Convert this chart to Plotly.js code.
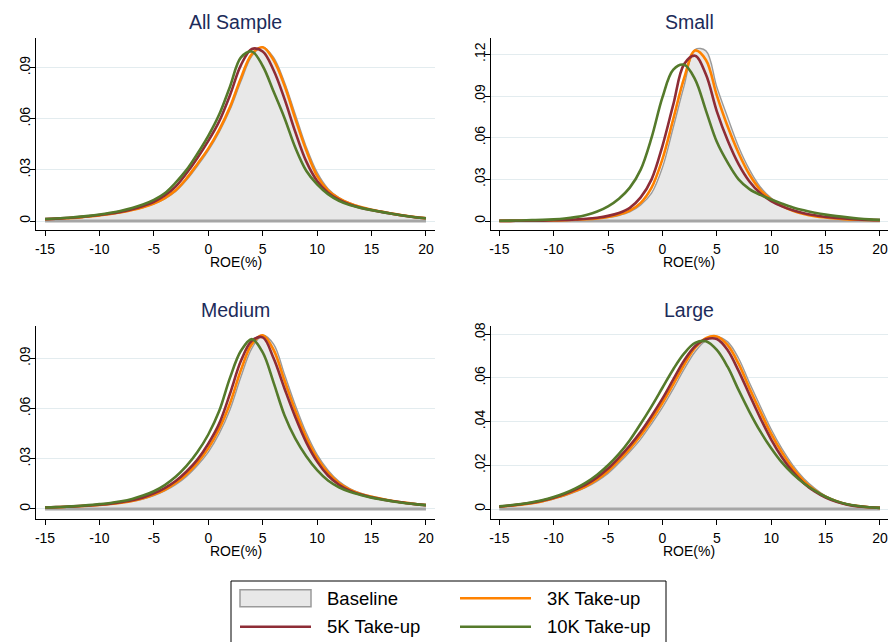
<!DOCTYPE html>
<html><head><meta charset="utf-8">
<script src="https://cdn.plot.ly/plotly-3.0.1.min.js"></script>
<style>html,body{margin:0;padding:0;background:#fff}#chart{width:889px;height:642px}</style>
</head><body><div id="chart"></div>
<script>
// ROE grid (x values, %)
const roe = [-15,-14,-13,-12,-11,-10,-9,-8,-7,-6,-5,-4,-3,-2,-1,0,1,2,3,4,5,6,7,8,9,10,11,12,13,14,15,16,17,18,19,20];

const seriesNames = ['Baseline','3K Take-up','5K Take-up','10K Take-up'];
const panelTitles = ['All Sample','Small','Medium','Large'];

// All Sample
const allBaseline = [.0010,.0013,.0016,.0020,.0025,.0032,.0040,.0050,.0062,.0079,.0100,.0130,.0173,.0240,.0323,.0413,.0522,.0654,.0820,.0968,.1022,.0960,.0815,.0625,.0435,.0285,.0190,.0138,.0106,.0084,.0067,.0055,.0043,.0033,.0024,.0016];
const all3K       = [.0010,.0013,.0016,.0020,.0026,.0033,.0041,.0051,.0064,.0081,.0103,.0135,.0180,.0250,.0335,.0425,.0535,.0670,.0840,.0980,.1020,.0945,.0795,.0600,.0415,.0265,.0180,.0133,.0103,.0082,.0066,.0054,.0042,.0032,.0023,.0016];
const all5K       = [.0011,.0014,.0018,.0022,.0028,.0035,.0044,.0055,.0069,.0088,.0113,.0150,.0202,.0280,.0370,.0470,.0585,.0740,.0915,.1010,.0995,.0885,.0717,.0522,.0350,.0235,.0166,.0125,.0097,.0078,.0064,.0052,.0041,.0031,.0022,.0016];
const all10K      = [.0012,.0015,.0019,.0024,.0030,.0038,.0048,.0060,.0076,.0097,.0124,.0163,.0225,.0300,.0395,.0500,.0625,.0790,.0960,.0995,.0910,.0760,.0605,.0430,.0295,.0215,.0158,.0119,.0094,.0077,.0064,.0052,.0041,.0031,.0022,.0016];

// Small
const smallBaseline = [.0001,.0001,.0002,.0002,.0003,.0004,.0006,.0008,.0012,.0017,.0026,.0040,.0065,.0115,.0200,.0385,.0675,.0975,.1235,.1225,.0965,.0745,.0535,.0370,.0245,.0165,.0112,.0077,.0053,.0037,.0026,.0019,.0013,.0010,.0007,.0005];
const small3K       = [.0001,.0001,.0002,.0002,.0003,.0004,.0006,.0009,.0013,.0019,.0029,.0046,.0075,.0130,.0240,.0445,.0735,.1030,.1228,.1160,.0905,.0680,.0490,.0335,.0225,.0155,.0107,.0074,.0051,.0035,.0025,.0018,.0012,.0009,.0007,.0005];
const small5K       = [.0001,.0001,.0002,.0002,.0003,.0005,.0007,.0011,.0016,.0024,.0037,.0058,.0095,.0170,.0300,.0540,.0840,.1130,.1190,.1055,.0790,.0580,.0410,.0285,.0200,.0143,.0105,.0077,.0056,.0041,.0029,.0022,.0016,.0011,.0008,.0006];
const small10K      = [.0002,.0003,.0004,.0006,.0008,.0012,.0018,.0028,.0044,.0068,.0105,.0160,.0240,.0370,.0600,.0890,.1090,.1125,.1020,.0795,.0570,.0420,.0300,.0230,.0188,.0155,.0125,.0098,.0077,.0060,.0046,.0035,.0026,.0018,.0012,.0008];

// Medium
const medBaseline = [.0008,.0010,.0012,.0015,.0019,.0023,.0029,.0036,.0046,.0060,.0080,.0108,.0145,.0195,.0260,.0340,.0450,.0595,.0790,.0960,.1038,.0985,.0805,.0620,.0455,.0325,.0232,.0165,.0122,.0094,.0076,.0062,.0050,.0040,.0031,.0024];
const med3K       = [.0008,.0010,.0013,.0016,.0020,.0024,.0030,.0038,.0048,.0064,.0086,.0115,.0155,.0208,.0276,.0362,.0478,.0632,.0830,.0985,.1038,.0950,.0768,.0587,.0428,.0305,.0217,.0155,.0116,.0090,.0073,.0060,.0048,.0038,.0030,.0023];
const med5K       = [.0009,.0011,.0013,.0017,.0021,.0026,.0032,.0041,.0052,.0069,.0093,.0125,.0167,.0224,.0295,.0390,.0510,.0690,.0885,.1005,.1025,.0900,.0720,.0548,.0398,.0283,.0200,.0145,.0110,.0086,.0070,.0057,.0046,.0037,.0029,.0023];
const med10K      = [.0009,.0011,.0014,.0018,.0023,.0029,.0036,.0046,.0060,.0080,.0106,.0143,.0192,.0257,.0340,.0445,.0585,.0785,.0945,.1015,.0935,.0755,.0560,.0420,.0315,.0232,.0170,.0130,.0103,.0084,.0068,.0056,.0045,.0036,.0029,.0023];

// Large
const largeBaseline = [.0010,.0014,.0019,.0025,.0034,.0046,.0060,.0078,.0100,.0128,.0163,.0210,.0262,.0320,.0390,.0465,.0550,.0640,.0720,.0772,.0789,.0765,.0690,.0578,.0470,.0365,.0275,.0200,.0140,.0095,.0060,.0038,.0023,.0014,.0008,.0005];
const large3K       = [.0010,.0015,.0020,.0027,.0036,.0049,.0064,.0083,.0105,.0135,.0173,.0222,.0275,.0336,.0407,.0485,.0571,.0660,.0737,.0782,.0790,.0750,.0665,.0553,.0446,.0344,.0258,.0186,.0129,.0087,.0056,.0035,.0021,.0013,.0008,.0005];
const large5K       = [.0011,.0016,.0022,.0029,.0039,.0052,.0068,.0089,.0113,.0145,.0185,.0235,.0290,.0353,.0426,.0505,.0593,.0680,.0745,.0777,.0778,.0727,.0632,.0523,.0416,.0318,.0236,.0170,.0118,.0080,.0052,.0033,.0020,.0012,.0008,.0005];
const large10K      = [.0012,.0017,.0023,.0031,.0041,.0055,.0072,.0094,.0122,.0157,.0200,.0252,.0315,.0390,.0470,.0555,.0640,.0712,.0760,.0768,.0728,.0650,.0545,.0445,.0355,.0278,.0212,.0160,.0118,.0084,.0056,.0036,.0022,.0014,.0008,.0005];

const xTicks = [-15,-10,-5,0,5,10,15,20];
const yTicks1 = [0,.03,.06,.09];            const yText1 = ['0','.03','.06','.09'];
const yTicks2 = [0,.03,.06,.09,.12];        const yText2 = ['0','.03','.06','.09','.12'];
const yTicks4 = [0,.02,.04,.06,.08];        const yText4 = ['0','.02','.04','.06','.08'];

const panels = [
  {series:[allBaseline,all3K,all5K,all10K], yt:yTicks1, ytt:yText1},
  {series:[smallBaseline,small3K,small5K,small10K], yt:yTicks2, ytt:yText2},
  {series:[medBaseline,med3K,med5K,med10K], yt:yTicks1, ytt:yText1},
  {series:[largeBaseline,large3K,large5K,large10K], yt:yTicks4, ytt:yText4}
];

const lineColors = ['#9a9a9a','#ff8200','#8e2c36','#557a2b'];

const W = 889, H = 642;
const xDomPx = [[36,435],[490.7,888],[36,435],[490.7,888]];
const yDomPx = [[37.7,230],[37.7,230],[325.7,518.7],[325.7,518.7]];
const xRanges = [[-15.83,20.83],[-15.79,20.74],[-15.83,20.83],[-15.79,20.74]];
const yRanges = [[-0.00528,0.1076],[-0.00648,0.132],[-0.0058,0.1095],[-0.00444,0.0839]];
const xTitleY = [262,262,551,551];

const font = 'Liberation Sans, Arial, sans-serif';
const traces = [];
const layout = {
  width: W, height: H,
  margin: {l:0,r:0,t:0,b:0},
  paper_bgcolor: '#ffffff', plot_bgcolor: '#ffffff',
  font: {family: font, color: '#000', size: 14},
  showlegend: false,
  annotations: [], shapes: []
};

panels.forEach((p, i) => {
  const n = i+1;
  const xa = n===1 ? 'x' : 'x'+n, ya = n===1 ? 'y' : 'y'+n;
  const xk = n===1 ? 'xaxis' : 'xaxis'+n, yk = n===1 ? 'yaxis' : 'yaxis'+n;
  traces.push({x: roe, y: p.series[0], xaxis: xa, yaxis: ya, type:'scatter', mode:'lines',
    name: seriesNames[0], fill:'tozeroy', fillcolor:'#e8e8e8',
    line:{color:lineColors[0], width:1.4, shape:'spline'}, hoverinfo:'skip'});
  traces.push({x: [roe[0], roe[roe.length-1]], y: [0,0], xaxis: xa, yaxis: ya, type:'scatter', mode:'lines',
    line:{color:'#a6a6a6', width:3}, hoverinfo:'skip', name:'Baseline edge'});
  for (let s = 1; s < 4; s++) {
    traces.push({x: roe, y: p.series[s], xaxis: xa, yaxis: ya, type:'scatter', mode:'lines',
      name: seriesNames[s], line:{color:lineColors[s], width:2.6, shape:'spline'}});
  }
  layout[xk] = {
    domain: [xDomPx[i][0]/W, xDomPx[i][1]/W], range: xRanges[i], anchor: ya,
    tickvals: xTicks, ticktext: xTicks.map(String), ticks:'outside', ticklen:5, tickcolor:'#000',
    showline:true, linecolor:'#000', linewidth:1, ticklabelstandoff:1,
    showgrid:false, zeroline:false, tickfont:{family:font,size:14,color:'#000'}
  };
  layout[yk] = {
    domain: [1-yDomPx[i][1]/H, 1-yDomPx[i][0]/H], range: yRanges[i], anchor: xa,
    tickvals: p.yt, ticktext: p.ytt, tickangle:-90, ticks:'outside', ticklen:5, tickcolor:'#000',
    showline:true, linecolor:'#000', linewidth:1, showgrid:true, gridcolor:'#e3ecef', gridwidth:1,
    zeroline:false, tickfont:{family:font,size:14,color:'#000'}, ticklabelstandoff:-6
  };
  const cx = (xDomPx[i][0]+xDomPx[i][1])/2/W;
  layout.annotations.push({text: panelTitles[i], xref:'paper', yref:'paper',
    x: cx, y: 1-(yDomPx[i][0]-16)/H, xanchor:'center', yanchor:'middle',
    showarrow:false, font:{family:font,size:19.5,color:'#1c2b5a'}});
  layout.annotations.push({text: 'ROE(%)', xref:'paper', yref:'paper',
    x: cx, y: 1-xTitleY[i]/H, xanchor:'center', yanchor:'middle',
    showarrow:false, font:{family:font,size:14,color:'#000'}});
});

// legend (two columns, row-major: Baseline, 3K / 5K, 10K)
layout.shapes.push({type:'rect', xref:'paper', yref:'paper', x0:231/W, x1:666/W, y0:1-660/H, y1:1-581/H,
  line:{color:'#000', width:1}, fillcolor:'rgba(0,0,0,0)'});
const legCols = [240, 460], legRows = [598.3, 626.7], legTextX = [325, 545];
seriesNames.forEach((nm, k) => {
  const c = k % 2, r = Math.floor(k / 2);
  const x0 = legCols[c], x1 = legCols[c] + 71, yc = legRows[r];
  if (k === 0) {
    layout.shapes.push({type:'rect', xref:'paper', yref:'paper', x0:x0/W, x1:x1/W, y0:1-(yc+8.5)/H, y1:1-(yc-8.5)/H,
      line:{color:'#9a9a9a', width:1.5}, fillcolor:'#e8e8e8'});
  } else {
    layout.shapes.push({type:'line', xref:'paper', yref:'paper', x0:x0/W, x1:x1/W, y0:1-yc/H, y1:1-yc/H,
      line:{color:lineColors[k], width:2.6}});
  }
  layout.annotations.push({text: nm, xref:'paper', yref:'paper', x: legTextX[c]/W, y: 1-yc/H,
    xanchor:'left', yanchor:'middle', showarrow:false, font:{family:font,size:18.5,color:'#000'}});
});

Plotly.newPlot('chart', traces, layout, {displayModeBar:false, staticPlot:true});
</script></body></html>
